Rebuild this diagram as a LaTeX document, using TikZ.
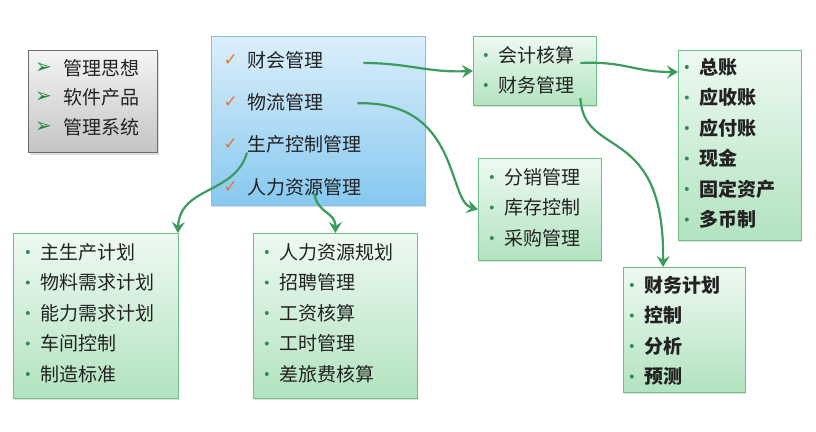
\documentclass[tikz,border=0pt]{standalone}
\usepackage{fontspec}
\setmainfont{Noto Sans CJK SC}
\newfontfamily\symfont{DejaVu Sans}
\usepackage{tikz}
\usetikzlibrary{positioning,shadows,arrows.meta}

\definecolor{flowgreen}{HTML}{3C9C5E}
\definecolor{textgray}{HTML}{222222}
\definecolor{dotgreen}{HTML}{2E8B57}
\definecolor{arrowgreen}{HTML}{1F8A3C}
\definecolor{checkorange}{HTML}{E8762B}
\definecolor{greentop}{HTML}{EEF9F1}
\definecolor{greenbot}{HTML}{B2E3BF}
\definecolor{greenline}{HTML}{6DBF88}
\definecolor{bluetop}{HTML}{DCEFFB}
\definecolor{bluebot}{HTML}{86C8F0}
\definecolor{blueline}{HTML}{86BDE3}
\definecolor{graytop}{HTML}{F4F4F4}
\definecolor{graybot}{HTML}{C4C4C4}
\definecolor{grayline}{HTML}{6E6E6E}

\begin{document}
\begin{tikzpicture}[x=1pt,y=1pt,node distance=30.5pt,on grid,
    box/.style={anchor=north west,inner sep=0pt,line width=0.8pt,
      drop shadow={opacity=0.25,shadow xshift=1pt,shadow yshift=-2pt}},
    greenbox/.style={box,draw=greenline,top color=greentop,bottom color=greenbot},
    bluebox/.style={box,draw=blueline,top color=bluetop,bottom color=bluebot},
    graybox/.style={box,draw=grayline,line width=1.2pt,top color=graytop,bottom color=graybot},
    entry/.style={inner sep=0pt,anchor=west,text=textgray,font=\fontsize{19}{22}\selectfont},
    dotitem/.style={entry,label={[circle,fill=dotgreen,minimum size=4pt,inner sep=0pt,label distance=10pt]left:{}}},
    bolditem/.style={dotitem,font=\fontsize{19}{22}\selectfont\bfseries},
    checkitem/.style={entry,label={[text=checkorange,font=\symfont\bfseries\fontsize{17}{17}\selectfont,inner sep=0pt,label distance=9pt]left:✓}},
    arrowitem/.style={entry,label={[text=arrowgreen,font=\symfont\fontsize{20}{20}\selectfont,inner sep=0pt,label distance=11pt]left:➢}},
    flow/.style={draw=flowgreen,line width=2.2pt,-{Stealth[length=11pt,width=13pt,inset=4pt]}}]
  \useasboundingbox[fill=white] (0,0) rectangle (816,-431);

  % boxes
  \node[graybox,minimum width=129pt,minimum height=102pt] (ideas)   at (28,-50)   {};
  \node[bluebox,minimum width=214pt,minimum height=169pt] (modules) at (211,-36)  {};
  \node[greenbox,minimum width=123pt,minimum height=69pt]  (acct)   at (473,-36)  {};
  \node[greenbox,minimum width=123pt,minimum height=190pt] (ledger) at (678,-50)  {};
  \node[greenbox,minimum width=123pt,minimum height=102pt] (logi)   at (478,-158) {};
  \node[greenbox,minimum width=122pt,minimum height=125pt] (plan)   at (623,-267) {};
  \node[greenbox,minimum width=165pt,minimum height=165pt] (prod)   at (13,-233)  {};
  \node[greenbox,minimum width=164pt,minimum height=165pt] (hr)     at (253,-233) {};

  % gray box
  \node[arrowitem] (i1) at (63,-68) {管理思想};
  \node[arrowitem,below=29.5pt of i1.west,anchor=west] (i2) {软件产品};
  \node[arrowitem,below=29.5pt of i2.west,anchor=west] (i3) {管理系统};

  % blue box
  \node[checkitem] (m1) at (247,-60) {财会管理};
  \node[checkitem,below=42.3pt of m1.west,anchor=west] (m2) {物流管理};
  \node[checkitem,below=42.3pt of m2.west,anchor=west] (m3) {生产控制管理};
  \node[checkitem,below=42.3pt of m3.west,anchor=west] (m4) {人力资源管理};

  % accounting
  \node[dotitem] (a1) at (498,-55) {会计核算};
  \node[dotitem,below=30pt of a1.west,anchor=west] (a2) {财务管理};

  % ledger
  \node[bolditem] (l1) at (699,-67) {总账};
  \node[bolditem,below=of l1.west,anchor=west] (l2) {应收账};
  \node[bolditem,below=of l2.west,anchor=west] (l3) {应付账};
  \node[bolditem,below=of l3.west,anchor=west] (l4) {现金};
  \node[bolditem,below=of l4.west,anchor=west] (l5) {固定资产};
  \node[bolditem,below=of l5.west,anchor=west] (l6) {多币制};

  % logistics
  \node[dotitem] (g1) at (504,-177) {分销管理};
  \node[dotitem,below=of g1.west,anchor=west] (g2) {库存控制};
  \node[dotitem,below=of g2.west,anchor=west] (g3) {采购管理};

  % financial planning
  \node[bolditem] (f1) at (644,-285) {财务计划};
  \node[bolditem,below=of f1.west,anchor=west] (f2) {控制};
  \node[bolditem,below=of f2.west,anchor=west] (f3) {分析};
  \node[bolditem,below=of f3.west,anchor=west] (f4) {预测};

  % production
  \node[dotitem] (p1) at (40,-252) {主生产计划};
  \node[dotitem,below=of p1.west,anchor=west] (p2) {物料需求计划};
  \node[dotitem,below=of p2.west,anchor=west] (p3) {能力需求计划};
  \node[dotitem,below=of p3.west,anchor=west] (p4) {车间控制};
  \node[dotitem,below=of p4.west,anchor=west] (p5) {制造标准};

  % human resources
  \node[dotitem] (h1) at (279,-252) {人力资源规划};
  \node[dotitem,below=of h1.west,anchor=west] (h2) {招聘管理};
  \node[dotitem,below=of h2.west,anchor=west] (h3) {工资核算};
  \node[dotitem,below=of h3.west,anchor=west] (h4) {工时管理};
  \node[dotitem,below=of h4.west,anchor=west] (h5) {差旅费核算};

  % connectors
  \draw[flow] ([shift={(40pt,-3pt)}]m1.east) .. controls +(45,0) and +(-45,-2) .. (acct.west);
  \draw[flow] ([shift={(34pt,-1pt)}]m2.east) .. controls +(103,3) and +(-31,8) .. (logi.west);
  \draw[flow] ([yshift=-8pt]m3.west) .. controls +(-12,-42) and +(2,47) .. ([xshift=-1pt]prod.north east);
  \draw[flow] ([shift={(67pt,-6pt)}]m4.west) .. controls +(4,-22) and +(0,22) .. (hr.north);
  \draw[flow] ([shift={(6pt,-8pt)}]a1.east) .. controls +(45,2) and +(-45,0) .. ([yshift=-22pt]ledger.north west);
  \draw[flow] ([shift={(6pt,-13pt)}]a2.east) .. controls +(3,-62) and +(2,145) .. ([xshift=40pt]plan.north west);
\end{tikzpicture}
\end{document}
